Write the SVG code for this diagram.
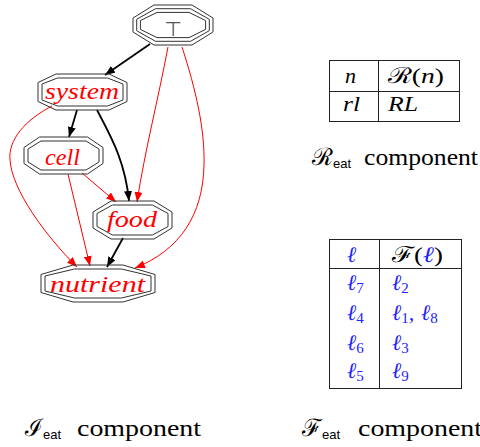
<svg xmlns="http://www.w3.org/2000/svg" width="480" height="447" viewBox="0 0 480 447">
<defs>
<style>
.oct{fill:none;stroke:#333;stroke-width:1}
.lbl{font-family:"Liberation Serif","DejaVu Serif",serif;font-style:italic;fill:#ff0000;font-size:24px}
.eb{fill:none;stroke:#000;stroke-width:1.8}
.er{fill:none;stroke:#ff0000;stroke-width:1}
.tb{fill:none;stroke:#222;stroke-width:1}
.m{font-family:"Liberation Serif","DejaVu Serif",serif;font-style:italic;font-size:22px;fill:#000}
.l{font-family:"Liberation Serif","DejaVu Serif",serif;font-style:italic;font-size:22px;fill:#2222ff}
.up{font-style:normal}
.bl{fill:#2222ff}
.sub{font-size:15px;font-style:normal}
.cap{font-family:"Liberation Serif","DejaVu Serif",serif;font-size:24px;fill:#000}
.ss{font-family:"Liberation Sans","DejaVu Sans",sans-serif;font-size:13px}
</style>
<marker id="ab" markerUnits="userSpaceOnUse" markerWidth="11" markerHeight="8" refX="10" refY="4" orient="auto"><path d="M0,0 L10,4 L0,8 z" fill="#000"/></marker>
<marker id="ar" markerUnits="userSpaceOnUse" markerWidth="11" markerHeight="8" refX="10" refY="4" orient="auto"><path d="M0,0 L10,4 L0,8 z" fill="#ff0000"/></marker>
</defs>
<rect width="480" height="447" fill="#fff"/>

<g id="edges">
<path class="eb" d="M150,44 L105,75" marker-end="url(#ab)"/>
<path class="er" d="M168,47 C158,100 145,150 137,202" marker-end="url(#ar)"/>
<path class="er" d="M182,47 C196,90 205,130 204,165 C203,215 180,250 135,268" marker-end="url(#ar)"/>
<path class="eb" d="M77,110 L69,137" marker-end="url(#ab)"/>
<path class="eb" d="M97,110 C110,135 125,160 129,201" marker-end="url(#ab)"/>
<path class="er" d="M82,173 L116,202" marker-end="url(#ar)"/>
<path class="er" d="M68,174 L90,266" marker-end="url(#ar)"/>
<path class="er" d="M52,106 C25,120 8,140 10,160 C12,190 45,235 77,267" marker-end="url(#ar)"/>
<path class="eb" d="M123,238 L107,267" marker-end="url(#ab)"/>
</g>

<g id="top">
<polygon class="oct" points="154,5 192,5 213,18 213,32 192,45 154,45 133,32 133,18"/>
<polygon class="oct" points="155.5,8.7 190.5,8.7 209.3,19.3 209.3,30.7 190.5,41.3 155.5,41.3 136.7,30.7 136.7,19.3"/>
<polygon class="oct" points="157,12.4 189,12.4 205.6,20.6 205.6,29.4 189,37.6 157,37.6 140.4,29.4 140.4,20.6"/>
<text x="173" y="36" text-anchor="middle" font-family="DejaVu Sans,sans-serif" font-size="20" fill="#555">⊤</text>
</g>

<g id="system">
<polygon class="oct" points="56,74 109,74 127,82.5 127,101.5 109,110 56,110 38,101.5 38,82.5"/>
<polygon class="oct" points="57.5,78 107.5,78 123,84 123,100 107.5,106 57.5,106 42,100 42,84"/>
<text class="lbl" x="45" y="99" textLength="74" lengthAdjust="spacingAndGlyphs">system</text>
</g>

<g id="cell">
<polygon class="oct" points="39.5,137 87.5,137 103,147.5 103,163.5 87.5,174 39.5,174 24,163.5 24,147.5"/>
<polygon class="oct" points="41,141 86,141 99,149 99,162 86,170 41,170 28,162 28,149"/>
<text class="lbl" x="45" y="165" textLength="35" lengthAdjust="spacingAndGlyphs">cell</text>
</g>

<g id="food">
<polygon class="oct" points="111,201 154,201 172,212 172,228 154,239 111,239 93,228 93,212"/>
<polygon class="oct" points="112.5,205 152.5,205 168,213.5 168,226.5 152.5,235 112.5,235 97,226.5 97,213.5"/>
<text class="lbl" x="107" y="227" textLength="50" lengthAdjust="spacingAndGlyphs">food</text>
</g>

<g id="nutrient">
<polygon class="oct" points="73,265 123,265 155,274.5 155,292.5 123,302 73,302 41,292.5 41,274.5"/>
<polygon class="oct" points="74.5,269 121.5,269 151,276 151,291 121.5,298 74.5,298 45,291 45,276"/>
<text class="lbl" x="50" y="292" textLength="95" lengthAdjust="spacingAndGlyphs">nutrient</text>
</g>

<g id="table-R">
<rect class="tb" x="329.5" y="60.5" width="130" height="61"/>
<line class="tb" x1="329.5" y1="91.5" x2="459.5" y2="91.5"/>
<line class="tb" x1="378.5" y1="60.5" x2="378.5" y2="121.5"/>
<text class="m" x="345" y="83">n</text>
<text class="m" x="388" y="83" textLength="56" lengthAdjust="spacingAndGlyphs"><tspan class="up">ℛ(</tspan>n<tspan class="up">)</tspan></text>
<text class="m" x="343" y="111" textLength="17" lengthAdjust="spacingAndGlyphs">rl</text>
<text class="m" x="388" y="111" textLength="30" lengthAdjust="spacingAndGlyphs">RL</text>
</g>

<g id="table-F">
<rect class="tb" x="329.5" y="239.5" width="132" height="149"/>
<line class="tb" x1="329.5" y1="268.5" x2="461.5" y2="268.5"/>
<line class="tb" x1="379.5" y1="239.5" x2="379.5" y2="388.5"/>
<text class="l" x="347" y="262">ℓ</text>
<text class="m" x="392" y="262" textLength="51" lengthAdjust="spacingAndGlyphs"><tspan class="up">ℱ(</tspan><tspan class="bl">ℓ</tspan><tspan class="up">)</tspan></text>
<text class="l" x="347" y="290">ℓ<tspan class="sub" dy="3">7</tspan></text>
<text class="l" x="392" y="290">ℓ<tspan class="sub" dy="3">2</tspan></text>
<text class="l" x="347" y="320">ℓ<tspan class="sub" dy="3">4</tspan></text>
<text class="l" x="392" y="320">ℓ<tspan class="sub" dy="3">1</tspan><tspan dy="-3">,</tspan><tspan x="421">ℓ</tspan><tspan class="sub" dy="3">8</tspan></text>
<text class="l" x="347" y="350">ℓ<tspan class="sub" dy="3">6</tspan></text>
<text class="l" x="392" y="350">ℓ<tspan class="sub" dy="3">3</tspan></text>
<text class="l" x="347" y="378">ℓ<tspan class="sub" dy="3">5</tspan></text>
<text class="l" x="392" y="378">ℓ<tspan class="sub" dy="3">9</tspan></text>
</g>

<g id="captions">
<text class="cap" x="312" y="165" font-size="22">ℛ<tspan class="ss" dy="3">eat</tspan></text>
<text class="cap" x="364" y="165" textLength="114" lengthAdjust="spacingAndGlyphs">component</text>
<text class="cap" x="25" y="436" font-size="22">ℐ<tspan class="ss" dy="3">eat</tspan></text>
<text class="cap" x="77" y="436" textLength="124" lengthAdjust="spacingAndGlyphs">component</text>
<text class="cap" x="302" y="436" font-size="22">ℱ<tspan class="ss" dy="3">eat</tspan></text>
<text class="cap" x="358" y="436" textLength="124" lengthAdjust="spacingAndGlyphs">component</text>
</g>
</svg>
